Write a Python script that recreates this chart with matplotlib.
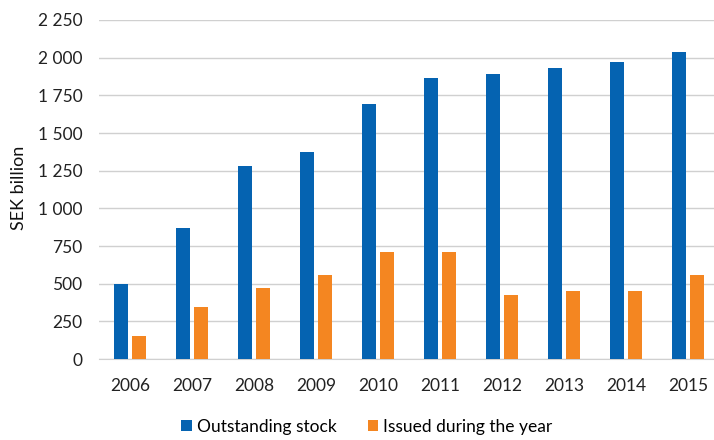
import numpy as np
import matplotlib.pyplot as plt
from matplotlib.ticker import FuncFormatter

plt.rcParams['font.family'] = ['Lato', 'DejaVu Sans']

# Data (SEK billion)
years = ['2006', '2007', '2008', '2009', '2010', '2011', '2012', '2013', '2014', '2015']
outstanding = [495, 870, 1280, 1375, 1690, 1862, 1890, 1930, 1970, 2040]
issued = [155, 345, 468, 555, 712, 712, 427, 453, 453, 555]

blue = '#0563b1'
orange = '#f48621'

fig = plt.figure(figsize=(7.14, 4.4), dpi=100)
ax = fig.add_axes([99 / 714, 1 - 359 / 440, 620 / 714, 339 / 440])

x = np.arange(len(years))
w = 0.225
off = 0.145
ax.bar(x - off, outstanding, w, color=blue, label='Outstanding stock', zorder=3)
ax.bar(x + off, issued, w, color=orange, label='Issued during the year', zorder=3)

ax.set_ylim(0, 2250)
ax.set_xlim(-0.5, 9.5)
ax.set_yticks(np.arange(0, 2251, 250))
ax.yaxis.set_major_formatter(FuncFormatter(lambda v, p: f'{int(v):,}'.replace(',', ' ')))
ax.set_xticks(x)
ax.set_xticklabels(years)

ax.grid(axis='y', color='#d0d0d0', linewidth=1, zorder=0)
for s in ['top', 'right', 'left']:
    ax.spines[s].set_visible(False)
ax.spines['bottom'].set_color('#d0d0d0')
ax.tick_params(axis='both', length=0, labelsize=12.5, colors='#222222')
ax.tick_params(axis='y', pad=12)
ax.tick_params(axis='x', pad=14)

fig.text(19 / 714, 1 - 188 / 440, 'SEK billion', rotation=90, fontsize=13,
         ha='center', va='center', color='#111111')

fig.legend(loc='center', bbox_to_anchor=(367 / 714, 1 - 427 / 440), ncol=2,
           frameon=False, fontsize=12.5, handlelength=0.6, handleheight=0.6,
           handletextpad=0.3, columnspacing=1.8, borderpad=0)

fig.savefig('out.png', dpi=100)
